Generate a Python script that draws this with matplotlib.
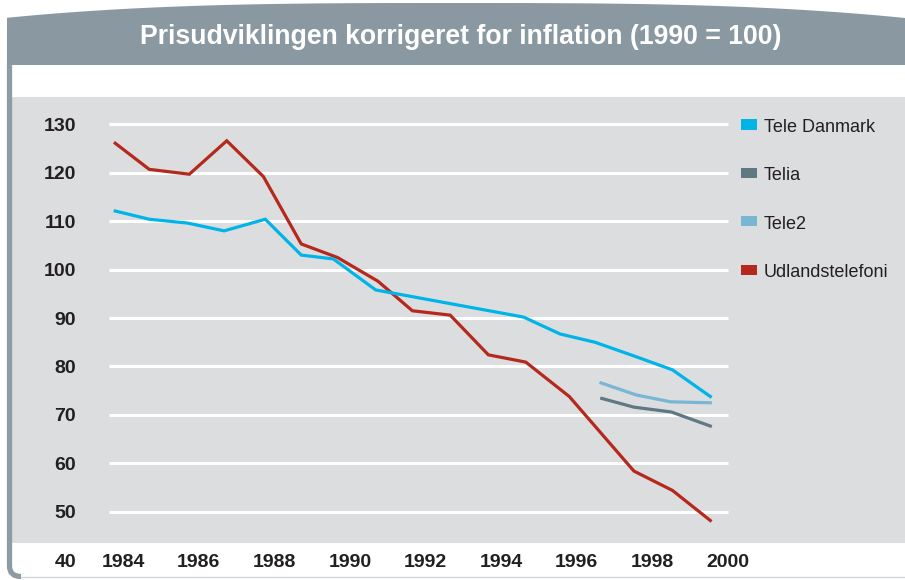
import numpy as np
import matplotlib
matplotlib.use("Agg")
import matplotlib.pyplot as plt
from matplotlib.patches import Polygon, Rectangle, PathPatch
from matplotlib.path import Path
from matplotlib.transforms import Affine2D

# ---------------- data ----------------
title = "Prisudviklingen korrigeret for inflation (1990 = 100)"
series_names = ["Tele Danmark", "Telia", "Tele2", "Udlandstelefoni"]

tdk_years = [1983.79, 1984.69, 1985.71, 1986.67, 1987.76, 1988.71, 1989.56,
             1990.68, 1994.59, 1995.56, 1996.48, 1997.50, 1998.53, 1999.53]
tdk_vals = [112.1, 110.4, 109.6, 108.0, 110.4, 103.0, 102.2,
            95.8, 90.2, 86.7, 85.0, 82.2, 79.3, 73.8]

telia_years = [1996.66, 1997.51, 1998.50, 1999.53]
telia_vals = [73.4, 71.6, 70.6, 67.7]

tele2_years = [1996.64, 1997.58, 1998.48, 1999.53]
tele2_vals = [76.6, 74.1, 72.7, 72.5]

udl_years = [1983.79, 1984.69, 1985.75, 1986.74, 1987.71, 1988.71, 1989.67,
             1990.74, 1991.65, 1992.65, 1993.66, 1994.65, 1995.80, 1997.51,
             1998.53, 1999.53]
udl_vals = [126.1, 120.7, 119.7, 126.6, 119.2, 105.3, 102.5,
            97.6, 91.5, 90.6, 82.4, 80.9, 73.8, 58.4, 54.4, 48.2]

x_ticks = [1984, 1986, 1988, 1990, 1992, 1994, 1996, 1998, 2000]
y_ticks = [50, 60, 70, 80, 90, 100, 110, 120, 130]
y_bottom_label = 40

colors = {"Tele Danmark": "#00b4e8", "Telia": "#5f7882",
          "Tele2": "#78b6d4", "Udlandstelefoni": "#b5281c"}

# ---------------- figure ----------------
W, H = 905, 580
fig = plt.figure(figsize=(W / 100, H / 100), dpi=100, facecolor="white")
pix = Affine2D().scale(1 / W, -1 / H).translate(0, 1) + fig.transFigure

header_col = "#8a98a2"
# header with arched top
xs = np.linspace(7, 905, 200)
t = (xs - 455) / 450
ytop = 3 + 15 * np.abs(t) ** 3
pts = [(7, 65)] + list(zip(xs, ytop)) + [(905, 65)]
fig.patches.append(Polygon(pts, closed=True, transform=pix, facecolor=header_col,
                           edgecolor="none", zorder=0))

# left border with rounded bottom corner
verts = [(9.5, 65), (9.5, 566), (9.5, 576.5), (21, 576.5)]
codes = [Path.MOVETO, Path.LINETO, Path.CURVE3, Path.CURVE3]
fig.patches.append(PathPatch(Path(verts, codes), transform=pix, fill=False,
                             edgecolor="#8d9ba5", lw=3.8, zorder=1))
fig.lines.append(plt.Line2D([21, 905], [577, 577], transform=pix, color="#d3d9dd",
                            lw=1.0, zorder=1))

# plot area
ax = fig.add_axes([12 / W, 1 - 543 / H, 893 / W, 446 / H])
ax.set_facecolor("#dcdddf")
for s in ax.spines.values():
    s.set_visible(False)
ax.set_xlim(1981.06, 2004.68)
ax.set_ylim(43.55, 135.64)

ax.hlines(y_ticks, 1983.63, 2000.0, colors="white", lw=2.2, zorder=1)

ax.plot(udl_years, udl_vals, color=colors["Udlandstelefoni"], lw=2.3, zorder=3,
        solid_joinstyle="miter")
ax.plot(tdk_years, tdk_vals, color=colors["Tele Danmark"], lw=2.3, zorder=3,
        solid_joinstyle="miter")
ax.plot(tele2_years, tele2_vals, color=colors["Tele2"], lw=2.3, zorder=3)
ax.plot(telia_years, telia_vals, color=colors["Telia"], lw=2.3, zorder=3)

tick_font = dict(family=["Liberation Sans", "DejaVu Sans"], weight="bold", size=14)
txt_col = "#231f20"
ax.set_xticks(x_ticks)
ax.set_xticklabels([str(v) for v in x_ticks], fontdict=tick_font, color=txt_col)
ax.set_yticks(y_ticks)
ax.set_yticklabels([str(v) for v in y_ticks], fontdict=tick_font, color=txt_col)
ax.tick_params(axis="x", length=0, pad=8)
ax.tick_params(axis="y", length=0, pad=-46)
ax.text(1982.757, 39.6, str(y_bottom_label), ha="right", va="center", color=txt_col,
        clip_on=False, **tick_font)

# legend (aligned with gridlines)
leg_y = [130, 120, 110, 100]
px_per_unit = 4.843
px_per_year = 37.81
for name, yv in zip(series_names, leg_y):
    ax.add_patch(Rectangle((1984 + (741 - 123) / px_per_year, yv - 5.3 / px_per_unit),
                           16 / px_per_year, 10.3 / px_per_unit,
                           facecolor=colors[name], edgecolor="none", zorder=4))
    ax.text(1984 + (764 - 123) / px_per_year, yv - 7.5 / px_per_unit, name,
            ha="left", va="baseline", color=txt_col,
            family=["Liberation Sans", "DejaVu Sans"], size=13, zorder=4)

# title auto-fit to target width
ttl = fig.text(461 / W, 1 - 44 / H, title, ha="center", va="baseline", color="white",
               family=["Liberation Sans", "DejaVu Sans"], weight="bold", size=16)
fig.canvas.draw()
wpx = ttl.get_window_extent().width
ttl.set_fontsize(16 * 643 / wpx)

fig.savefig("out.png", dpi=100, facecolor="white")
